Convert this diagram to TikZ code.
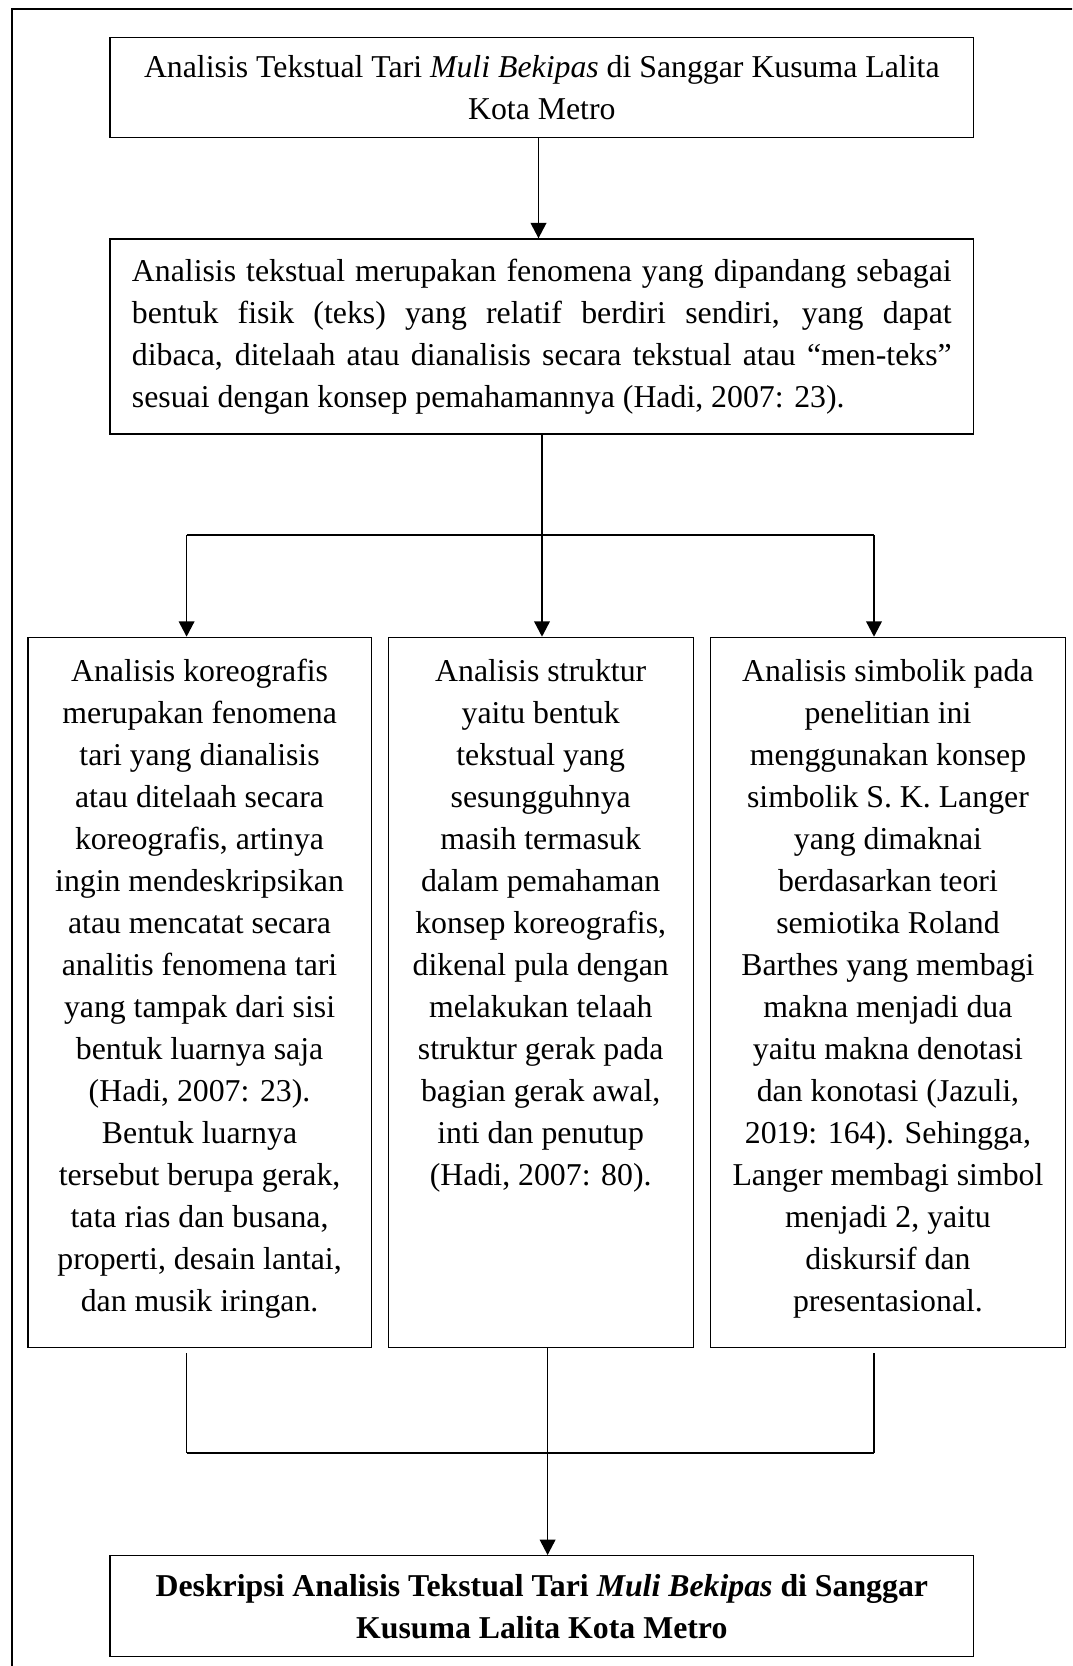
\documentclass[tikz,border=0pt]{standalone}
\usepackage{fontspec}
\setmainfont{Liberation Serif}
\usetikzlibrary{arrows.meta,calc}
\newlength\pxu
\setlength\pxu{0.3774pt}
\begin{document}
\begin{tikzpicture}[x=\pxu,y=-\pxu,
  box/.style={draw, line width=0.5pt, inner sep=0pt},
  conn/.style={line width=0.65pt},
  thickconn/.style={line width=0.85pt},
  arr/.style={conn, -{Triangle[length=5.8pt,width=5.9pt]}},
  bar/.style={line width=0.85pt},
  frame/.style={line width=0.75pt},
  every node/.style={font=\fontsize{12pt}{15.85pt}\selectfont}]
\useasboundingbox (0,0) rectangle (1072,1666);
\clip (0,0) rectangle (1072,1666);
\fill[white] (0,0) rectangle (1072,1666);
\draw[frame] (1100,9) -- (11.6,9) -- (11.6,1700);

\node[box, anchor=north west] (top) at (109.4,36.7) {\parbox[c][100\pxu][c]{863.5\pxu}{\centering Analisis Tekstual Tari \textit{Muli Bekipas} di Sanggar Kusuma Lalita\\ Kota Metro}};

\node[box, anchor=north west] (mid) at (109.4,238.3) {\parbox[c][195\pxu][c]{863.5\pxu}{\centering\parbox{819.7\pxu}{Analisis tekstual merupakan fenomena yang dipandang sebagai\linebreak bentuk fisik (teks) yang relatif berdiri sendiri, yang dapat\linebreak dibaca, ditelaah atau dianalisis secara tekstual atau “men-teks”\linebreak sesuai dengan konsep pemahamannya (Hadi, 2007: 23).}}};

\node[box, anchor=north west] (c1) at (27.3,636.7) {\parbox[c][710\pxu][t]{343.2\pxu}{\centering\rule{0pt}{43.8\pxu}Analisis koreografis\\ merupakan fenomena\\ tari yang dianalisis\\ atau ditelaah secara\\ koreografis, artinya\\ ingin mendeskripsikan\\ atau mencatat secara\\ analitis fenomena tari\\ yang tampak dari sisi\\ bentuk luarnya saja\\ (Hadi, 2007: 23).\\ Bentuk luarnya\\ tersebut berupa gerak,\\ tata rias dan busana,\\ properti, desain lantai,\\ dan musik iringan.}};

\node[box, anchor=north west] (c2) at (387.6,636.7) {\parbox[c][710\pxu][t]{304.9\pxu}{\centering\rule{0pt}{43.8\pxu}Analisis struktur\\ yaitu bentuk\\ tekstual yang\\ sesungguhnya\\ masih termasuk\\ dalam pemahaman\\ konsep koreografis,\\ dikenal pula dengan\\ melakukan telaah\\ struktur gerak pada\\ bagian gerak awal,\\ inti dan penutup\\ (Hadi, 2007: 80).}};

\node[box, anchor=north west] (c3) at (709.6,636.7) {\parbox[c][710\pxu][t]{355.4\pxu}{\centering\rule{0pt}{43.8\pxu}Analisis simbolik pada\\ penelitian ini\\ menggunakan konsep\\ simbolik S. K. Langer\\ yang dimaknai\\ berdasarkan teori\\ semiotika Roland\\ Barthes yang membagi\\ makna menjadi dua\\ yaitu makna denotasi\\ dan konotasi (Jazuli,\\ 2019: 164). Sehingga,\\ Langer membagi simbol\\ menjadi 2, yaitu\\ diskursif dan\\ presentasional.}};

\node[box, anchor=north west] (bot) at (109.4,1555) {\parbox[c][101\pxu][c]{863.5\pxu}{\centering\bfseries Deskripsi Analisis Tekstual Tari \textit{Muli Bekipas} di Sanggar\\ Kusuma Lalita Kota Metro}};

\coordinate (xa) at (538.5,0);
\draw[arr] (top.south -| xa) -- (mid.north -| xa);
\coordinate (j) at (542,535);
\coordinate (jl) at (186.6,535);
\coordinate (jr) at (874,535);
\draw[thickconn] (mid.south -| j) -- (j);
\draw[bar] (jl) -- (jr);
\draw[arr] (jl) -- (c1.north -| jl);
\draw[arr] (j) -- (c2.north -| j);
\draw[arr] (jr) -- (c3.north -| jr);

\coordinate (kl) at (186.6,1453.3);
\coordinate (km) at (547.6,1453.3);
\coordinate (kr) at (874,1453.3);
\draw[conn] ($(c1.south -| kl)+(0,5)$) -- (kl);
\draw[conn] ($(c3.south -| kr)+(0,5)$) -- (kr);
\draw[conn] (c2.south -| km) -- (km);
\draw[bar] (kl) -- (kr);
\draw[arr] (km) -- (bot.north -| km);
\end{tikzpicture}
\end{document}
